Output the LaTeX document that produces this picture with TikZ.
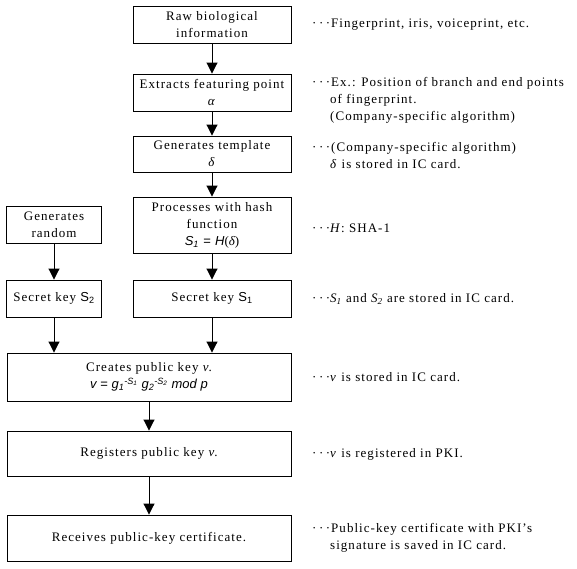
\documentclass[tikz,border=0pt]{standalone}
\usepackage{fontspec}
\setmainfont{Liberation Serif}[LetterSpace=8]
\newfontfamily\sansfam{Liberation Sans}
\usetikzlibrary{arrows.meta}

% leader dots in front of each remark
\newcommand\lead{\textperiodcentered\hspace{2.5pt}\textperiodcentered\hspace{2.5pt}\textperiodcentered}
% italic symbols
\newcommand\ital[1]{\textit{#1}}
\newcommand\sfit[1]{{\sansfam\itshape #1}}

\begin{document}
\begin{tikzpicture}[x=1pt,y=-1pt,
  font=\fontsize{13}{17}\selectfont,
  box/.style={draw, line width=0.9pt, align=center, inner sep=0pt},
  main/.style={box, minimum width=158pt},
  wide/.style={box, minimum width=284pt},
  side/.style={box, minimum width=95pt},
  flow/.style={-{Triangle[width=11pt,length=11pt]}, line width=0.9pt},
  note/.style={anchor=west, align=left, inner sep=0pt}]
\useasboundingbox (0,0) rectangle (577,568);

% main column
\node[main, minimum height=37pt] (raw)  at (212,25)  {Raw biological\\information};
\node[main, minimum height=37pt] (feat) at (212,92.5) {Extracts featuring point\\\ital{α}};
\node[main, minimum height=36pt] (tmpl) at (212,154) {Generates template\\\ital{δ}};
\node[main, minimum height=56pt] (hash) at (212,225) {Processes with hash\\function\\\sfit{S}\textsubscript{\sfit{1}} {\sansfam=} \sfit{H}({\itshape δ})};
\node[main, minimum height=37pt] (s1)   at (212,298.5) {Secret key {\sansfam S\textsubscript{1}}};

% random branch
\node[side, minimum height=37pt] (rand) at (54,224.5) {Generates\\random};
\node[side, minimum height=37pt] (s2)   at (54,298.5) {Secret key {\sansfam S\textsubscript{2}}};

% lower full-width steps
\node[wide, minimum height=48pt] (pub)  at (149,377) {Creates public key \ital{v}.\\
  {\sansfam\itshape v {\upshape=} g\textsubscript{1}\textsuperscript{-S\textsubscript{1}} g\textsubscript{2}\textsuperscript{-S\textsubscript{2}} mod p}};
\node[wide, minimum height=45pt] (reg)  at (149,453.5) {Registers public key \ital{v}.};
\node[wide, minimum height=46pt] (cert) at (149,538) {Receives public-key certificate.};

% connectors
\draw[flow] (raw) -- (feat);
\draw[flow] (feat) -- (tmpl);
\draw[flow] (tmpl) -- (hash);
\draw[flow] (hash) -- (s1);
\draw[flow] (rand) -- (s2);
\draw[flow] (s2.south) -- (s2.south |- pub.north);
\draw[flow] (s1.south) -- (s1.south |- pub.north);
\draw[flow] (pub) -- (reg);
\draw[flow] (reg) -- (cert);

% remarks
\node[note] (n1) at (312,25)  {\lead Fingerprint, iris, voiceprint, etc.};
\node[note] (n2) at (312,100) {\lead Ex.: Position of branch and end points\\
  \phantom{\lead}of fingerprint.\\\phantom{\lead}(Company-specific algorithm)};
\node[note] (n3) at (312,156) {\lead (Company-specific algorithm)\\
  \phantom{\lead}\ital{δ} is stored in IC card.};
\node[note] (n4) at (312,228) {\lead \ital{H}: SHA-1};
\node[note] (n5) at (312,299) {\lead \ital{S\textsubscript{1}} and \ital{S\textsubscript{2}} are stored in IC card.};
\node[note] (n6) at (312,377) {\lead \ital{v} is stored in IC card.};
\node[note] (n7) at (312,454) {\lead \ital{v} is registered in PKI.};
\node[note] (n8) at (312,538) {\lead Public-key certificate with PKI's\\
  \phantom{\lead}signature is saved in IC card.};
\end{tikzpicture}
\end{document}
